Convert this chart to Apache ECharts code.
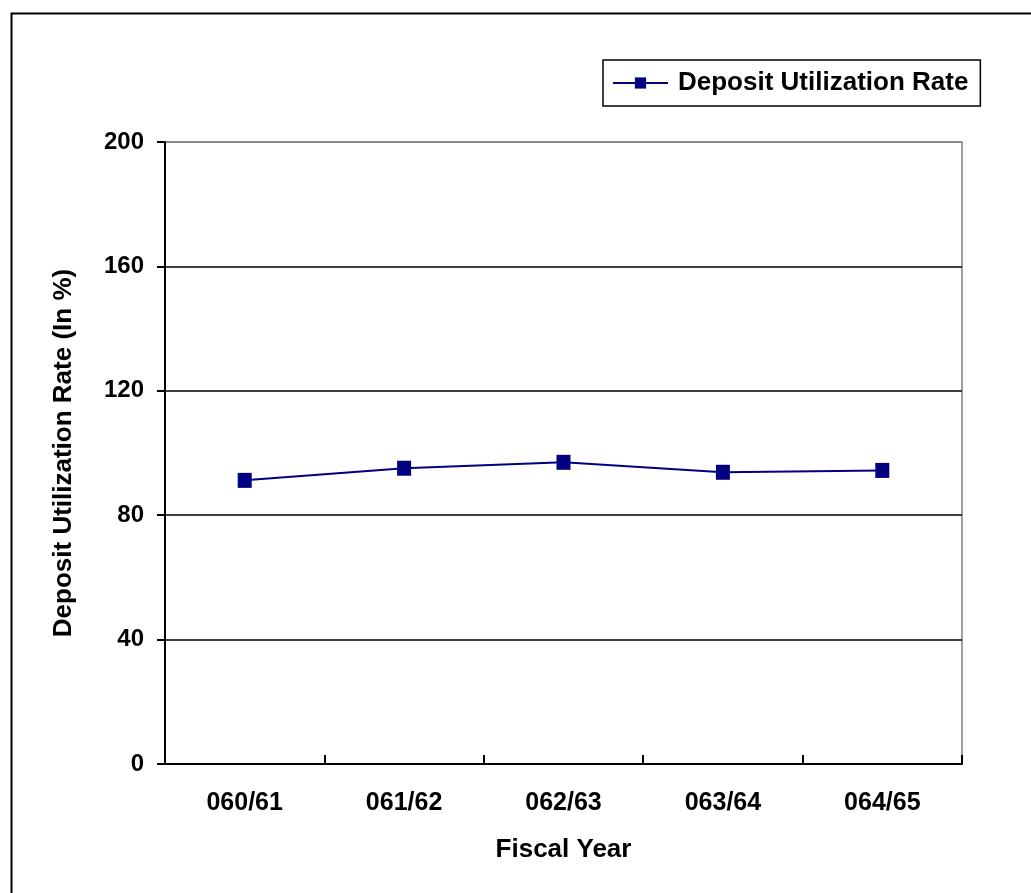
<!DOCTYPE html>
<html>
<head>
<meta charset="utf-8">
<script src="https://cdn.jsdelivr.net/npm/echarts@6/dist/echarts.min.js"></script>
<style>
html,body{margin:0;padding:0;background:#fff;}
#chart{width:1031px;height:893px;}
</style>
</head>
<body>
<div id="chart"></div>
<script>
const categories = ['060/61', '061/62', '062/63', '063/64', '064/65'];
const depositUtilization = [91.2, 95.1, 97.0, 93.8, 94.4];
const yTicks = [0, 40, 80, 120, 160, 200];
const seriesName = 'Deposit Utilization Rate';
const xTitle = 'Fiscal Year';
const yTitle = 'Deposit Utilization Rate (In %)';

const FONT = "'Liberation Sans', Arial, sans-serif";
const chart = echarts.init(document.getElementById('chart'), null, {renderer: 'canvas'});
chart.setOption({
  backgroundColor: '#fff',
  animation: false,
  graphic: [{
    type: 'rect', left: 9, top: 11,
    shape: {width: 1100, height: 1000},
    style: {fill: 'none', stroke: '#000', lineWidth: 2},
    silent: true, z: -1
  }],
  legend: {
    left: 603, top: 60,
    data: [seriesName],
    backgroundColor: '#fff',
    borderColor: '#000', borderWidth: 1.5, borderRadius: 0,
    padding: [10, 12, 10, 9],
    itemWidth: 55, itemHeight: 14, itemGap: 0,
    textStyle: {fontFamily: FONT, fontWeight: 'bold', fontSize: 26, color: '#000', padding: [0, 0, 0, 5]}
  },
  grid: {
    left: 165, top: 142, width: 797, height: 622,
    show: true, borderColor: '#808080', borderWidth: 1.5, backgroundColor: '#fff'
  },
  xAxis: {
    type: 'category', data: categories, boundaryGap: true,
    name: xTitle, nameLocation: 'middle', nameGap: 73,
    nameTextStyle: {fontFamily: FONT, fontWeight: 'bold', fontSize: 26, color: '#000'},
    axisLine: {lineStyle: {color: '#000', width: 2}},
    axisTick: {show: true, inside: true, length: 9, alignWithLabel: false, lineStyle: {color: '#000', width: 2}},
    axisLabel: {fontFamily: FONT, fontWeight: 'bold', fontSize: 25, color: '#000', margin: 27},
    splitLine: {show: false}
  },
  yAxis: {
    type: 'value', min: yTicks[0], max: yTicks[yTicks.length - 1], interval: yTicks[1] - yTicks[0],
    name: yTitle, nameLocation: 'middle', nameGap: 88,
    nameTextStyle: {fontFamily: FONT, fontWeight: 'bold', fontSize: 26, color: '#000'},
    axisLine: {show: true, lineStyle: {color: '#000', width: 2}},
    axisTick: {show: true, inside: false, length: 8, lineStyle: {color: '#000', width: 2}},
    axisLabel: {fontFamily: FONT, fontWeight: 'bold', fontSize: 24, color: '#000', margin: 21},
    splitLine: {show: true, lineStyle: {color: ['#000', '#000', '#000', '#000', '#000', '#808080'], width: 1.5}}
  },
  series: [{
    name: seriesName, type: 'line', data: depositUtilization,
    symbol: 'rect', symbolSize: [14, 15],
    lineStyle: {color: '#000080', width: 2},
    itemStyle: {color: '#000080'}
  }]
});
</script>
</body>
</html>
